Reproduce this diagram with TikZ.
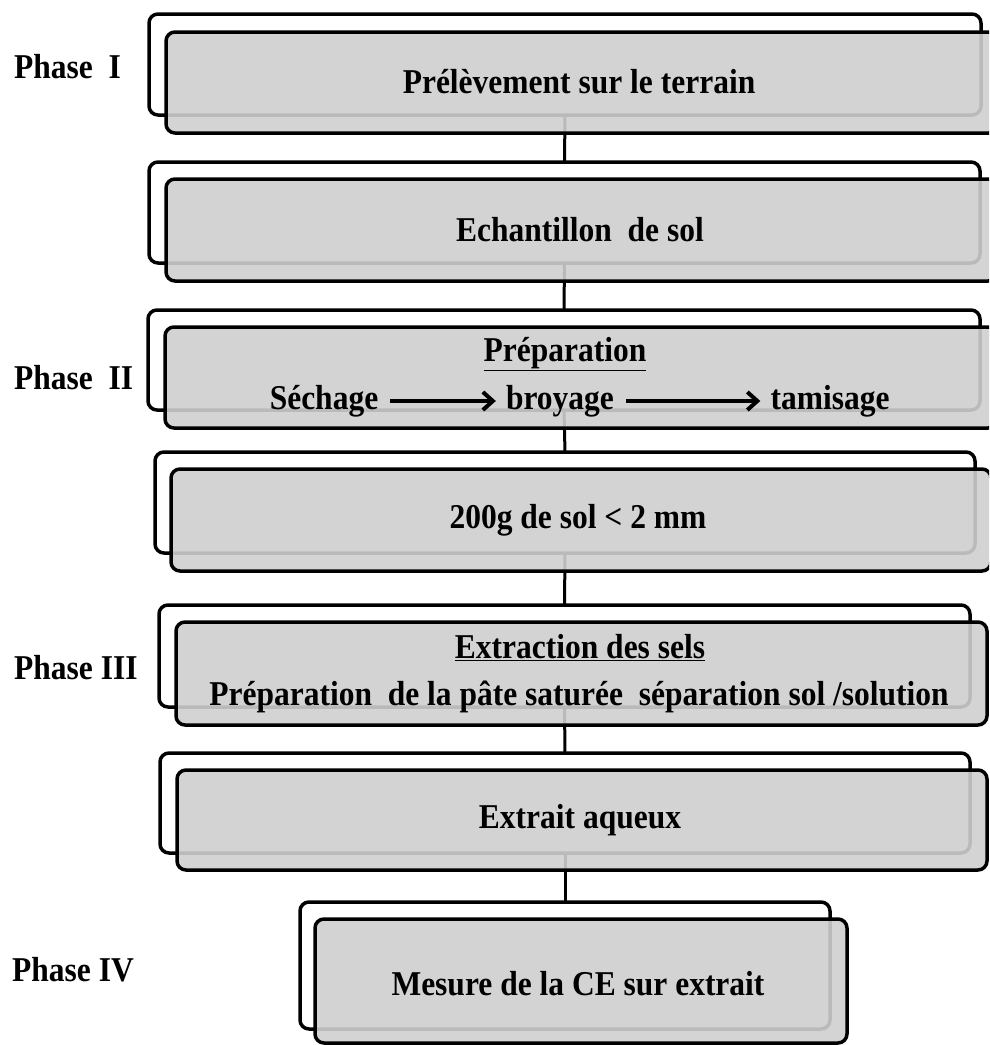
\documentclass[tikz,border=0pt]{standalone}
\usepackage{fontspec}
\usepackage{graphicx}
\setmainfont{Liberation Serif}
\usetikzlibrary{arrows.meta}
\definecolor{boxgray}{gray}{0.81}
\newcommand{\stretchtxt}[1]{\scalebox{1.05}[1.16]{#1}}
\tikzset{
  backbox/.style={draw=black, line width=3.5pt, rounded corners=9pt, fill=white, inner sep=0pt, outer sep=0pt},
  frontbox/.style={draw=black, line width=3.5pt, rounded corners=9pt, fill=boxgray, fill opacity=0.9, draw opacity=1, inner sep=0pt, outer sep=0pt},
  link/.style={draw=black, line width=3pt},
  txt/.style={font=\bfseries\fontsize{30}{34}\selectfont, inner sep=0pt, text=black},
  phase/.style={font=\bfseries\fontsize{30}{34}\selectfont, inner sep=0pt, anchor=west, text=black},
  flow/.style={line width=4pt, -{Straight Barb[length=10pt,width=18pt,line width=4pt]}, shorten <=12pt, shorten >=10pt}
}
\begin{document}
\begin{tikzpicture}[x=1pt,y=-1pt]
\useasboundingbox (0,0) rectangle (989,1045);
\clip (0,0) rectangle (989,1045);
% back boxes
\node[backbox, minimum width=832, minimum height=101] (b1) at (565,64.5) {};
\node[backbox, minimum width=831, minimum height=101] (b2) at (564.5,212.5) {};
\node[backbox, minimum width=832, minimum height=100] (b3) at (564,360) {};
\node[backbox, minimum width=820, minimum height=101] (b4) at (565,502.5) {};
\node[backbox, minimum width=811, minimum height=102] (b5) at (564.5,656) {};
\node[backbox, minimum width=810, minimum height=100] (b6) at (565,803) {};
\node[backbox, minimum width=530, minimum height=127] (b7) at (565,965.5) {};
% connectors (behind front boxes)
\draw[link] (b1.south) -- (b2.north);
\draw[link] (b2.south) -- (b3.north);
\draw[link] (b3.south) -- (b4.north);
\draw[link] (b4.south) -- (b5.north);
\draw[link] (b5.south) -- (b6.north);
\draw[link] (b6.south) -- (b7.north);
% front boxes
\node[frontbox, minimum width=832, minimum height=101] (f1) at (582,82.5) {};
\node[frontbox, minimum width=831, minimum height=102] (f2) at (581.5,230) {};
\node[frontbox, minimum width=832, minimum height=101] (f3) at (581,377.5) {};
\node[frontbox, minimum width=820, minimum height=102] (f4) at (581,520) {};
\node[frontbox, minimum width=811, minimum height=103] (f5) at (581.5,673.5) {};
\node[frontbox, minimum width=810, minimum height=100] (f6) at (582,820) {};
\node[frontbox, minimum width=532, minimum height=124] (f7) at (581,981) {};
% texts
\node[txt] (t1) at (579,82) {\stretchtxt{Prélèvement sur le terrain}};
\node[txt] (t2) at (580,230) {\stretchtxt{Echantillon\ \ de sol}};
\node[txt] (t3) at (565,354) {\stretchtxt{\underline{Préparation}}};
\node[txt] (s1) at (324,401) {\stretchtxt{Séchage}};
\node[txt] (s2) at (560,401) {\stretchtxt{broyage}};
\node[txt] (s3) at (830,401) {\stretchtxt{tamisage}};
\draw[flow] (s1) -- (s2);
\draw[flow] (s2) -- (s3);
\node[txt] (t4) at (578,520) {\stretchtxt{200g de sol < 2 mm}};
\node[txt] (t5) at (580,648) {\stretchtxt{\underline{Extraction des sels}}};
\node[txt] (t5b) at (579,697) {\stretchtxt{Préparation\ \ de la pâte saturée\ \ séparation sol /solution}};
\node[txt] (t6) at (580,820) {\stretchtxt{Extrait aqueux}};
\node[txt] (t7) at (578,984) {\stretchtxt{Mesure de la CE sur extrait}};
% phases
\node[phase] (p1) at (14,67) {\stretchtxt{Phase\ \ I}};
\node[phase] (p2) at (14,378) {\stretchtxt{Phase\ \ II}};
\node[phase] (p3) at (14,668) {\stretchtxt{Phase III}};
\node[phase] (p4) at (12,970) {\stretchtxt{Phase IV}};
\end{tikzpicture}
\end{document}
